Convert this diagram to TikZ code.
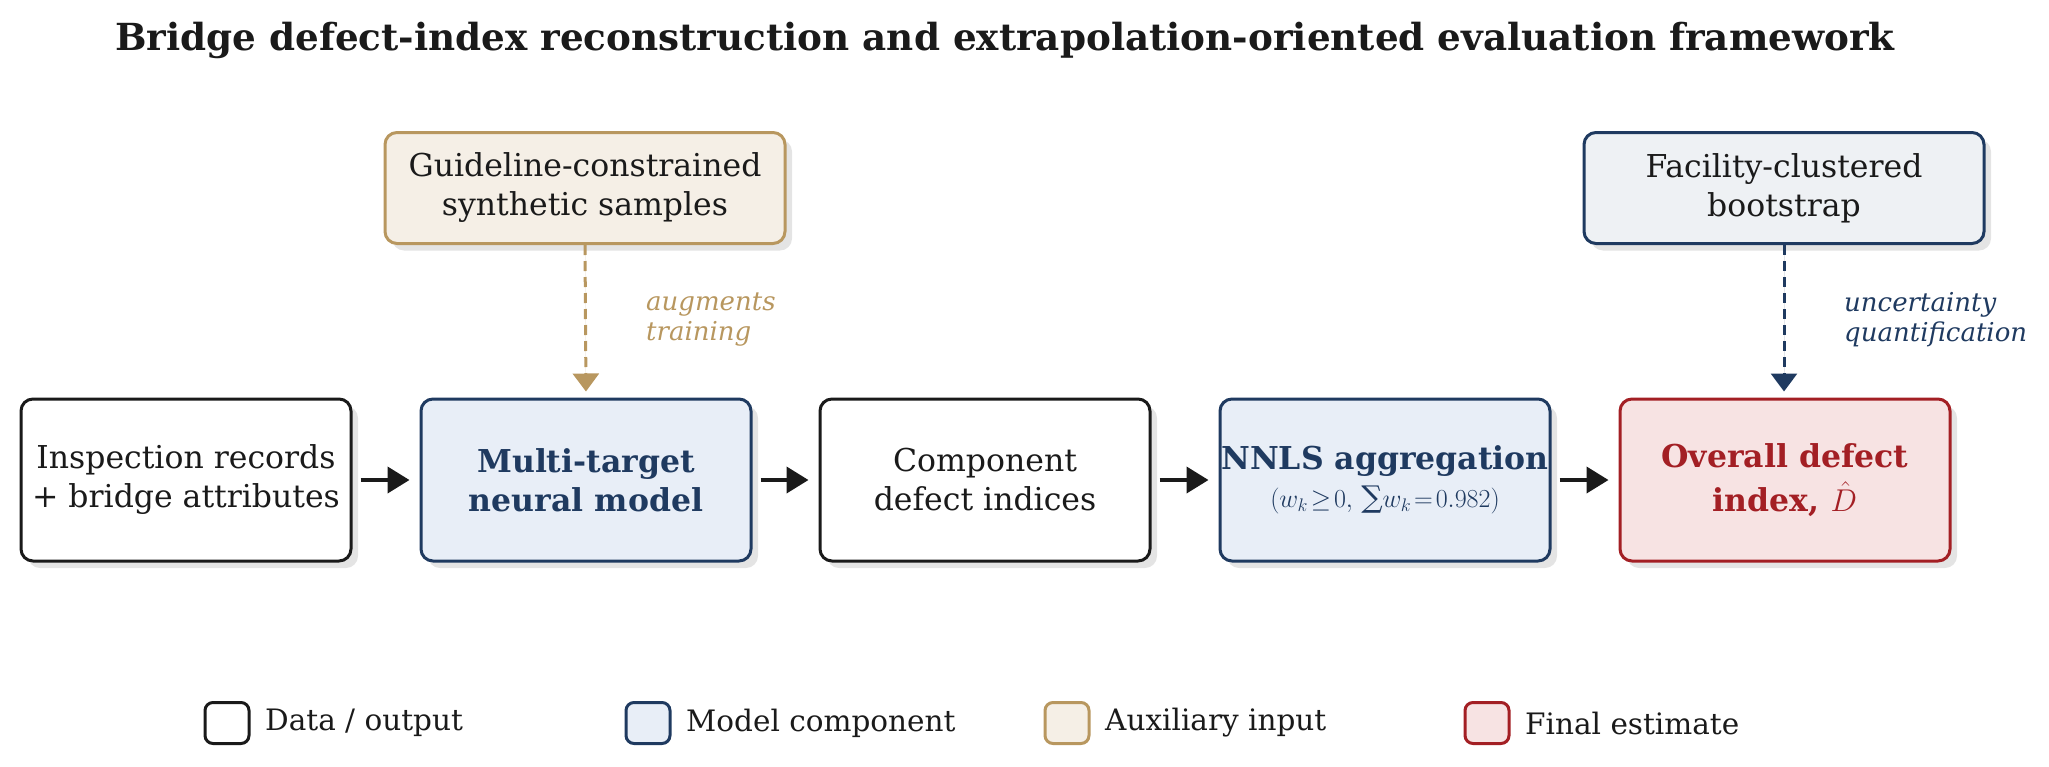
\RequirePackage{fix-cm}
\documentclass[tikz,border=0pt]{standalone}
\usepackage{fontspec}
\setmainfont{DejaVu Serif}
\usetikzlibrary{shadows,arrows.meta}
\definecolor{ink}{HTML}{1A1A1A}
\definecolor{navy}{HTML}{1F3A60}
\definecolor{navyfill}{HTML}{E8EEF7}
\definecolor{grayfill}{HTML}{EEF1F4}
\definecolor{tan}{HTML}{B8975F}
\definecolor{tanfill}{HTML}{F5EFE6}
\definecolor{darkred}{HTML}{A31F24}
\definecolor{redfill}{HTML}{F7E3E3}
\definecolor{shade}{HTML}{E4E4E4}
\tikzset{
  box/.style={rounded corners=12pt, line width=3pt, align=center, inner sep=0pt,
    font=\fontsize{31.5}{39}\selectfont,
    drop shadow={shadow xshift=7pt, shadow yshift=-7pt, fill=shade, opacity=1}},
  mainbox/.style={box, minimum width=330pt, minimum height=162pt},
  topbox/.style={box, minimum width=400pt, minimum height=111pt},
  databox/.style={draw=ink, fill=white, text=ink},
  modelbox/.style={draw=navy, fill=navyfill, text=navy},
  auxbox/.style={draw=tan, fill=tanfill, text=ink},
  boot/.style={draw=navy, fill=grayfill, text=ink},
  finalbox/.style={draw=darkred, fill=redfill, text=darkred},
  flow/.style={line width=4pt, draw=ink, -{Triangle[length=22pt,width=26pt]}, shorten <=8pt, shorten >=10pt},
  dasharrow/.style={line width=3pt, dash pattern=on 10pt off 6pt, -{Triangle[length=18pt,width=26pt]}, shorten >=6pt},
  lab/.style={font=\fontsize{26}{30}\selectfont\itshape, align=left, anchor=west, inner sep=0pt},
  legbox/.style={rounded corners=8pt, line width=3pt, minimum width=44pt, minimum height=41pt, inner sep=0pt},
  legtext/.style={font=\fontsize{29.5}{32}\selectfont, text=ink, anchor=west, inner sep=0pt}
}
\begin{document}
\begin{tikzpicture}[x=1pt,y=-1pt]
\useasboundingbox (0,0) rectangle (2049,766);
\node[font=\fontsize{37.3}{44}\selectfont\bfseries, text=ink] (title) at (1005,40) {Bridge defect-index reconstruction and extrapolation-oriented evaluation framework};

\node[mainbox, databox] (rec) at (186,480) {Inspection records\\+ bridge attributes};
\node[mainbox, modelbox, font=\fontsize{31.5}{39}\selectfont\bfseries] (nn) at (586,480) {Multi-target\\neural model};
\node[mainbox, databox] (comp) at (985,480) {Component\\defect indices};
\node[mainbox, modelbox] (nnls) at (1385,480) {{\fontsize{31.5}{39}\selectfont\bfseries NNLS aggregation}\\[-1pt]{\fontsize{26}{28}\selectfont$(w_k\!\geq\! 0,\ ${\fontsize{30}{28}\selectfont ∑}$w_k\!=\!0.982)$}};
\node[mainbox, finalbox, font=\fontsize{31.5}{44}\selectfont\bfseries] (final) at (1785,480) {Overall defect\\index, $\hat{D}$};

\node[topbox, auxbox] (syn) at (585,188) {Guideline-constrained\\synthetic samples};
\node[topbox, boot] (boots) at (1784,188) {Facility-clustered\\bootstrap};

\draw[flow] (rec) -- (nn);
\draw[flow] (nn) -- (comp);
\draw[flow] (comp) -- (nnls);
\draw[flow] (nnls) -- (final);

\draw[dasharrow, draw=tan, fill=tan] (syn.south) -- (nn.north);
\draw[dasharrow, draw=navy, fill=navy] (boots.south) -- (final.north -| boots.south);

\node[lab, text=tan] (l1) at (646,320) {augments\\training};
\node[lab, text=navy] (l2) at (1844,320) {uncertainty\\quantification};

\node[legbox, draw=ink, fill=white] (g1) at (227,723) {};
\node[legtext] (t1) at (265,723) {Data / output};
\node[legbox, draw=navy, fill=navyfill] (g2) at (648,723) {};
\node[legtext] (t2) at (686,723) {Model component};
\node[legbox, draw=tan, fill=tanfill] (g3) at (1067,723) {};
\node[legtext] (t3) at (1105,723) {Auxiliary input};
\node[legbox, draw=darkred, fill=redfill] (g4) at (1487,723) {};
\node[legtext] (t4) at (1525,723) {Final estimate};
\end{tikzpicture}
\end{document}
